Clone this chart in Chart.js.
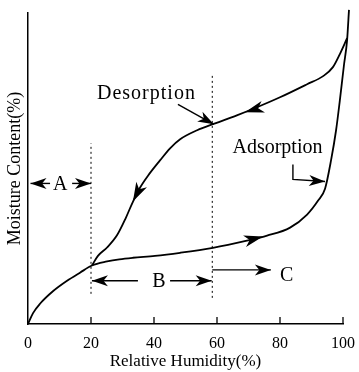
<!DOCTYPE html>
<html>
<head>
<meta charset="utf-8">
<script src="https://cdn.jsdelivr.net/npm/chart.js@4.4.0/dist/chart.umd.min.js"></script>
<style>
  html, body { margin: 0; padding: 0; background: #fff; }
</style>
</head>
<body>
<canvas id="myChart" width="359" height="372"></canvas>
<script>
// curves (x = relative humidity %, y = moisture content, relative 0-100)
const adsorptionX = [0, 1.6, 3.8, 8.0, 12.4, 16.5, 20.3, 25.1, 29.0, 33.3, 40.3, 48.3, 58.7, 69.5, 75.9, 83.2, 88.6, 92.1, 94.3, 96.2, 97.8, 99.0, 100.3, 101.3, 101.9];
const adsorptionY = [0, 3.5, 6.5, 10.6, 13.9, 16.5, 18.8, 20.1, 20.8, 21.3, 21.9, 22.9, 24.5, 26.8, 28.4, 31.0, 35.2, 39.7, 43.5, 52.6, 62.3, 71.9, 83.2, 91.3, 101];
const desorptionX = [20.3, 22.2, 25.1, 28.3, 31.0, 33.3, 35.6, 38.1, 41.9, 45.1, 48.3, 53.7, 59.4, 66.3, 72.7, 80.0, 88.6, 93.7, 96.8, 99.0, 101.3];
const desorptionY = [18.8, 21.9, 24.6, 28.6, 34.0, 39.3, 43.9, 47.7, 52.6, 56.5, 59.4, 62.3, 64.5, 67.1, 69.7, 72.9, 77.1, 79.7, 82.6, 86.8, 91.9];
const xTicks = [0, 20, 40, 60, 80, 100];
const boundaryX = [20, 58.5];
const regionLabels = ["A", "B", "C"];

const toPoints = (xs, ys) => xs.map((v, i) => ({x: v, y: ys[i]}));

function head(ctx, x0, y0, x1, y1, len, half) {
  const a = Math.atan2(y1 - y0, x1 - x0);
  const c = Math.cos(a), s = Math.sin(a);
  ctx.beginPath();
  ctx.moveTo(x1, y1);
  ctx.lineTo(x1 - len * c + half * s, y1 - len * s - half * c);
  ctx.lineTo(x1 - len * 0.72 * c, y1 - len * 0.72 * s);
  ctx.lineTo(x1 - len * c - half * s, y1 - len * s + half * c);
  ctx.closePath();
  ctx.fill();
}

// arrows / labels, all in data units
const curveArrows = [
  [75.2, 70.0, 68.9, 68.1],
  [35.6, 43.9, 33.3, 39.4],
  [69.5, 26.8, 74.6, 28.1]
];
const shaftArrows = [
  [47.6, 70.6, 59.0, 64.2],
  [7.0, 45.2, 0.8, 45.2],
  [14.0, 45.2, 20.0, 45.2],
  [34.9, 13.9, 20.3, 13.9],
  [45.1, 13.9, 58.3, 13.9],
  [58.5, 17.4, 77.1, 17.4]
];

const annot = {
  id: "annot",
  afterDatasetsDraw(chart) {
    const ctx = chart.ctx;
    const X = v => chart.scales.x.getPixelForValue(v);
    const Y = v => chart.scales.y.getPixelForValue(v);
    ctx.save();
    ctx.strokeStyle = "#000";
    ctx.fillStyle = "#000";

    // inward ticks on the x axis
    ctx.lineWidth = 1.3;
    xTicks.forEach(t => {
      if (t === 0) return;
      ctx.beginPath();
      ctx.moveTo(X(t), Y(0));
      ctx.lineTo(X(t), Y(0) - 7);
      ctx.stroke();
    });

    // dotted boundaries
    ctx.lineWidth = 1;
    ctx.setLineDash([2, 3]);
    [[boundaryX[0], 9.7, 58.1], [boundaryX[1], 8.4, 80]].forEach(b => {
      ctx.beginPath();
      ctx.moveTo(X(b[0]), Y(b[1]));
      ctx.lineTo(X(b[0]), Y(b[2]));
      ctx.stroke();
    });
    ctx.setLineDash([]);

    curveArrows.forEach(a => head(ctx, X(a[0]), Y(a[1]), X(a[2]), Y(a[3]), 19, 6));

    ctx.lineWidth = 1.4;
    shaftArrows.forEach(a => {
      ctx.beginPath();
      ctx.moveTo(X(a[0]), Y(a[1]));
      ctx.lineTo(X(a[2]), Y(a[3]));
      ctx.stroke();
      head(ctx, X(a[0]), Y(a[1]), X(a[2]), Y(a[3]), 16, 5.5);
    });
    // bent pointer to the adsorption curve
    ctx.beginPath();
    ctx.moveTo(X(84.1), Y(51.3));
    ctx.lineTo(X(84.1), Y(46.5));
    ctx.lineTo(X(94.3), Y(45.8));
    ctx.stroke();
    head(ctx, X(84.1), Y(46.5), X(94.3), Y(45.8), 16, 5.5);

    ctx.font = "20px 'Liberation Serif'";
    ctx.textAlign = "center";
    ctx.textBaseline = "middle";
    ctx.fillText(regionLabels[0], X(10.2), Y(44.8));
    ctx.fillText(regionLabels[1], X(41.6), Y(13.5));
    ctx.fillText(regionLabels[2], X(82.1), Y(15.6));
    ctx.fillText("Adsorption", X(79.2), Y(56.8));
    ctx.letterSpacing = "1px";
    ctx.fillText("Desorption", X(37.6), Y(74));
    ctx.restore();
  }
};

new Chart("myChart", {
  type: "scatter",
  data: {
    datasets: [
      { data: toPoints(adsorptionX, adsorptionY), clip: false },
      { data: toPoints(desorptionX, desorptionY), clip: false }
    ]
  },
  options: {
    responsive: false,
    animation: false,
    showLine: true,
    layout: { padding: { top: 13, right: 16 } },
    elements: {
      point: { radius: 0 },
      line: { borderColor: "#000", borderWidth: 1.8, cubicInterpolationMode: "monotone", fill: false }
    },
    plugins: { legend: { display: false }, tooltip: { enabled: false } },
    scales: {
      x: {
        // range set after the data limits so the points just past 100 are still drawn
        afterDataLimits: s => { s.min = 0; s.max = 100; },
        afterBuildTicks: s => { s.ticks = xTicks.map(v => ({value: v})); },
        afterFit: s => { s.height = 48; s.paddingLeft = 0; s.paddingRight = 0; },
        grid: { display: false, drawTicks: false },
        border: { color: "#000", width: 1.5 },
        ticks: { color: "#000", padding: 10, font: { family: "Liberation Serif", size: 16 } },
        title: { display: true, text: "Relative Humidity(%)", color: "#000", padding: 0,
                 font: { family: "Liberation Serif", size: 17 } }
      },
      y: {
        afterDataLimits: s => { s.min = 0; s.max = 100; },
        afterFit: s => { s.width = 28; s.paddingTop = 0; s.paddingBottom = 0; },
        grid: { display: false, drawTicks: false },
        border: { color: "#000", width: 1.5 },
        ticks: { display: false },
        title: { display: true, text: "Moisture Content(%)", color: "#000", padding: { top: 4, bottom: 0 },
                 font: { family: "Liberation Serif", size: 18 } }
      }
    }
  },
  plugins: [annot]
});
</script>
</body>
</html>
